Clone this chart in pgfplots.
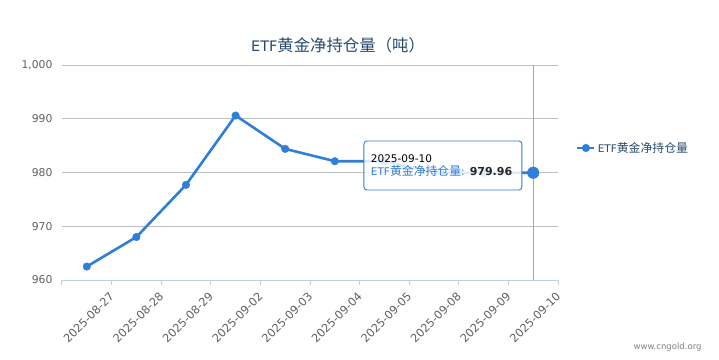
\documentclass[border=0pt]{standalone}
\usepackage{pgfplots}
\pgfplotsset{compat=1.18}
\usepackage{fontspec}
\setmainfont{DejaVu Sans}
\newfontfamily\cjk[Scale=1.13]{Noto Sans CJK SC}
\definecolor{ser}{HTML}{2F7ED8}
\definecolor{axc}{HTML}{C0D0E0}
\definecolor{gridc}{HTML}{C0C0C0}
\definecolor{ttl}{HTML}{274B6D}
\definecolor{lbl}{HTML}{606060}
\begin{document}
\begin{tikzpicture}
\useasboundingbox (0,0) rectangle (719pt,359pt);
\node[font=\fontsize{14.5}{17}\selectfont, text=ttl] at (338pt,314pt) {ETF{\cjk 黄金净持仓量（吨）}};
\node[font=\fontsize{8.5}{10}\selectfont, text=gray, anchor=east] at (705pt,12pt) {www.cngold.org};
\begin{axis}[
  at={(62pt,79pt)}, anchor=south west, scale only axis,
  width=496pt, height=215pt,
  xmin=-0.5, xmax=9.5, ymin=960, ymax=1000,
  ytick={960,970,980,990,1000},
  xtick={-0.5,0.5,1.5,2.5,3.5,4.5,5.5,6.5,7.5,8.5,9.5},
  xticklabels={,2025-08-27,2025-08-28,2025-08-29,2025-09-02,2025-09-03,2025-09-04,2025-09-05,2025-09-08,2025-09-09,2025-09-10},
  axis x line*=bottom, axis y line*=left,
  y axis line style={draw=none},
  x axis line style={draw=axc, line width=1pt},
  ymajorgrids, grid style={draw=gridc, line width=0.8pt},
  ytick style={draw=none},
  xtick style={draw=axc, line width=1pt},
  tick align=outside, major tick length=5pt,
  xtick pos=bottom,
  yticklabel style={font=\fontsize{10.8}{12}\selectfont, text=lbl, xshift=-1pt},
  xticklabel style={font=\fontsize{11.3}{12}\selectfont, text=lbl, rotate=45, anchor=north east, xshift=-3pt, yshift=1pt},
  /pgf/number format/assume math mode=true,
  /pgf/number format/1000 sep={,},
  legend style={at={(1.03,0.614)}, anchor=west, draw=none, fill=none,
    font=\fontsize{10.5}{12}\selectfont, text=ttl},
  legend cell align=left,
  clip=false,
]
\addplot[color=ser, line width=2.6pt, mark=*, mark size=3.8pt, mark options={solid, fill=ser, draw=ser, line width=0.4pt}]
  coordinates {(0,962.5) (1,968.0) (2,977.7) (3,990.6) (4,984.4) (5,982.1) (6,982.1) (7,980.0) (8,979.96) (9,979.96)};
\addlegendentry{ETF{\cjk 黄金净持仓量}}
\draw[gray!70, line width=0.8pt] (axis cs:9,960) -- (axis cs:9,1000);
\addplot[color=ser, only marks, mark=*, mark size=5.8pt, mark options={solid, fill=ser, draw=ser, line width=0.4pt}, forget plot]
  coordinates {(9,979.96)};
\coordinate (tt) at (rel axis cs:0.768,0.5326);
\end{axis}
\node[draw=ser, line width=0.9pt, rounded corners=3pt, fill=white, fill opacity=0.85, text opacity=1,
  text width=144pt, minimum height=49pt, align=left, inner xsep=7pt, inner ysep=6pt, anchor=center]
  at (tt)
  {\fontsize{10.5}{14}\selectfont\color{black}2025-09-10\\[1pt]
   {\fontsize{10.5}{14}\selectfont\color{ser}ETF{\cjk 黄金净持仓量}: }{\fontsize{11}{14}\selectfont\bfseries\color{black!85}979.96}};
\end{tikzpicture}
\end{document}
